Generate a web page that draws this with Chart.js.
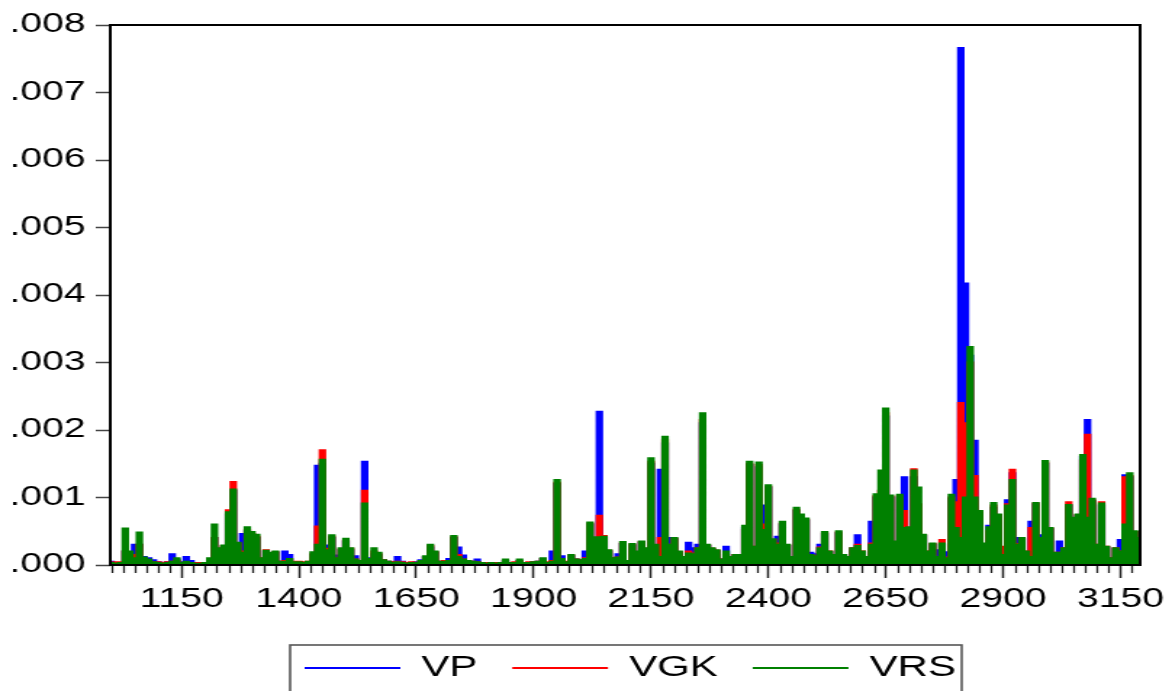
<!DOCTYPE html>
<html><head><meta charset="utf-8">
<script src="https://cdn.jsdelivr.net/npm/chart.js@4/dist/chart.umd.min.js"></script>
<style>
html,body{margin:0;padding:0;background:#fff;overflow:hidden;width:1172px;height:691px;}
#wrap{position:absolute;left:0;top:0;width:808px;height:691px;transform:scaleX(1.4505);transform-origin:0 0;}
</style></head><body>
<div id="wrap"><canvas id="c"></canvas></div>
<script>
const obs = [1000,1010,1020,1030,1040,1050,1060,1070,1080,1090,1100,1110,1120,1130,1140,1150,1160,1170,1180,1190,1200,1210,1220,1230,1240,1250,1260,1270,1280,1290,1300,1310,1320,1330,1340,1350,1360,1370,1380,1390,1400,1410,1420,1430,1440,1450,1460,1470,1480,1490,1500,1510,1520,1530,1540,1550,1560,1570,1580,1590,1600,1610,1620,1630,1640,1650,1660,1670,1680,1690,1700,1710,1720,1730,1740,1750,1760,1770,1780,1790,1800,1810,1820,1830,1840,1850,1860,1870,1880,1890,1900,1910,1920,1930,1940,1950,1960,1970,1980,1990,2000,2010,2020,2030,2040,2050,2060,2070,2080,2090,2100,2110,2120,2130,2140,2150,2160,2170,2180,2190,2200,2210,2220,2230,2240,2250,2260,2270,2280,2290,2300,2310,2320,2330,2340,2350,2360,2370,2380,2390,2400,2410,2420,2430,2440,2450,2460,2470,2480,2490,2500,2510,2520,2530,2540,2550,2560,2570,2580,2590,2600,2610,2620,2630,2640,2650,2660,2670,2680,2690,2700,2710,2720,2730,2740,2750,2760,2770,2780,2790,2800,2810,2820,2830,2840,2850,2860,2870,2880,2890,2900,2910,2920,2930,2940,2950,2960,2970,2980,2990,3000,3010,3020,3030,3040,3050,3060,3070,3080,3090,3100,3110,3120,3130,3140,3150,3160,3170,3180,3190];

const vp = [
.00005,.00003,.00003,.0002,.00015,.0003,.0003,.00012,.0001,.00007,
.00004,.00003,.00004,.00016,.00008,.00004,.00012,.00006,.00003,.00002,
.00003,.00008,.0004,.00022,.00026,.00075,.0011,.0003,.00046,.0005,
.00045,.0004,.00009,.0002,.00015,.00018,.00005,.0002,.00015,.00004,
.00004,.00003,.00004,.00015,.00147,.0015,.00029,.0004,.00014,.00022,
.00035,.00022,.00013,.00006,.00153,.0001,.00016,.00015,.00007,.00005,
.00004,.00012,.00005,.00003,.00003,.00004,.00007,.00012,.00026,.00018,
.00005,.00005,.00009,.0004,.00026,.00014,.00006,.00005,.00008,.00003,
.00003,.00002,.00003,.00003,.00006,.00003,.00003,.00006,.00003,.00003,
.00004,.00005,.00009,.00003,.0002,.0012,.00013,.00004,.00013,.00008,
.00007,.0002,.0006,.0004,.00227,.0004,.0002,.0001,.00016,.00031,
.00006,.00029,.00018,.00033,.00023,.0015,.00028,.00141,.0018,.0004,
.00038,.00018,.00011,.00033,.00025,.0003,.0021,.00028,.00023,.0002,
.00008,.00027,.00011,.00014,.00014,.00055,.00148,.00026,.00145,.00088,
.00115,.00036,.00042,.0006,.00028,.00011,.0008,.00072,.00066,.00018,
.00016,.0003,.00046,.00019,.00014,.00047,.00014,.00011,.00024,.00044,
.00019,.00011,.00064,.001,.001,.0022,.001,.00033,.001,.0013,
.0005,.0013,.0008,.00043,.00019,.0003,.00022,.0003,.00019,.00098,
.00126,.00766,.00417,.0031,.00184,.00075,.0003,.00058,.00085,.00073,
.00025,.00096,.00136,.0004,.00038,.00019,.00064,.0009,.00044,.0015,
.00053,.00017,.00035,.00024,.00088,.00068,.00073,.0016,.00215,.00095,
.00029,.00088,.00026,.0001,.00024,.00037,.00133,.0013,.00048,.00038];

const vgk = [
.00003,.00004,.00004,.0002,.00015,.00015,.0003,.0001,.00006,.00004,
.00004,.00003,.00004,.00005,.00006,.00003,.00004,.00003,.00003,.00003,
.00003,.00008,.0004,.00024,.00028,.00081,.00123,.00032,.0002,.00052,
.00046,.00042,.0001,.00022,.00016,.00019,.00005,.00006,.00008,.00005,
.00005,.00004,.00005,.00016,.00057,.0017,.00024,.00042,.0001,.00023,
.00036,.00024,.00008,.00006,.0011,.00008,.0002,.00016,.00007,.00005,
.00004,.00005,.00004,.00003,.00004,.00003,.00005,.00011,.00028,.00019,
.00005,.00006,.00005,.00041,.00015,.00008,.00006,.00005,.00004,.00003,
.00003,.00003,.00003,.00002,.00006,.00003,.00004,.00006,.00003,.00004,
.00004,.00005,.00009,.00004,.00006,.00122,.00009,.00005,.00014,.00008,
.00007,.0001,.00061,.00039,.00073,.00043,.00021,.0001,.00011,.00032,
.00006,.0003,.00019,.00034,.00024,.00153,.00029,.0004,.00185,.0003,
.00039,.00019,.00012,.0002,.00017,.00025,.00215,.00029,.00024,.00021,
.00008,.00015,.00012,.00015,.00015,.00052,.0015,.00027,.00148,.0006,
.00116,.00037,.00032,.00061,.00029,.00012,.00082,.00073,.00067,.00015,
.00013,.00026,.00047,.0002,.00015,.00048,.00015,.00012,.00025,.0003,
.0002,.00012,.00032,.00102,.0011,.00225,.00101,.00034,.00102,.0008,
.00052,.00142,.0009,.00044,.0002,.00031,.00012,.00037,.00011,.001,
.00093,.0024,.0021,.003,.00132,.00078,.00031,.0005,.00088,.00074,
.00027,.0009,.00141,.00031,.00039,.0002,.00055,.00091,.0004,.00152,
.00054,.00018,.00018,.00025,.00093,.00069,.00074,.00155,.00193,.00096,
.0003,.00093,.00027,.0001,.00025,.0002,.0013,.00132,.00049,.00039];

const vrs = [
.00003,.00002,.00003,.00054,.0002,.0001,.00048,.00011,.00008,.00004,
.00003,.00002,.00003,.00005,.0001,.00003,.00005,.00003,.00002,.00002,
.00003,.0001,.0006,.00025,.00029,.00078,.00112,.00033,.00018,.00056,
.00049,.00045,.0001,.00021,.00018,.0002,.00005,.00005,.00009,.00004,
.00004,.00003,.00005,.00019,.0003,.00156,.00022,.00044,.0001,.00025,
.00039,.00025,.00008,.00006,.00091,.00009,.00025,.00018,.00007,.00005,
.00003,.00004,.00003,.00002,.00003,.00003,.00006,.00013,.0003,.0002,
.00005,.00005,.00006,.00043,.00012,.00008,.00006,.00005,.00004,.00003,
.00002,.00003,.00002,.00003,.00008,.00003,.00003,.00008,.00003,.00003,
.00004,.00005,.0001,.00003,.00005,.00126,.00009,.00004,.00015,.00008,
.00007,.00009,.00063,.00041,.00041,.00042,.00022,.0001,.00011,.00034,
.00006,.00031,.0002,.00035,.00025,.00158,.0003,.00012,.0019,.0003,
.0004,.0002,.00012,.00017,.00016,.00025,.00225,.0003,.00025,.00022,
.00008,.0002,.00012,.00015,.00015,.00058,.00153,.00027,.00152,.00052,
.00118,.00038,.0003,.00064,.0003,.00012,.00085,.00075,.00069,.00015,
.00013,.00025,.00049,.0002,.00015,.0005,.00015,.00012,.00025,.00028,
.0002,.00012,.0003,.00105,.0014,.00232,.00103,.00035,.00104,.00055,
.00056,.0014,.00115,.00045,.0002,.00032,.00012,.00032,.0001,.00104,
.00055,.0004,.001,.00323,.001,.0008,.00032,.00056,.00092,.00075,
.00015,.00088,.00126,.0003,.0004,.0002,.00012,.00092,.0004,.00154,
.00055,.00018,.00018,.00025,.00089,.0007,.00075,.00163,.0007,.00098,
.0003,.00091,.00027,.0001,.00025,.0002,.0006,.00136,.0005,.0004];

const xTicks = [1150,1400,1650,1900,2150,2400,2650,2900,3150];
const yTicks = [0,.001,.002,.003,.004,.005,.006,.007,.008];
const yTickLabels = ['.000','.001','.002','.003','.004','.005','.006','.007','.008'];
const seriesNames = ['VP','VGK','VRS'];
const seriesColors = ['#0000ff','#ff0000','#008000'];
const seriesValues = [vp, vgk, vrs];

Chart.defaults.font.family = "'Liberation Sans', Arial, Helvetica, sans-serif";
Chart.defaults.color = '#000';

const PLOT_BOTTOM = 565;
const LEG_X = 210, LEG_Y = 668;

const decor = {
  id: 'decor',
  afterLayout(chart) {
    const lg = chart.legend;
    const pad = lg.options.labels.padding;
    lg.left = LEG_X - pad;
    lg.right = lg.left + 3000;
    lg.top = LEG_Y - pad - 14.5;
  },
  afterDraw(chart) {
    const ctx = chart.ctx, a = chart.chartArea, xs = chart.scales.x;
    ctx.save();
    ctx.strokeStyle = '#222';
    ctx.lineWidth = 1.3;
    for (let v = 1000; v <= 3175; v += 25) {
      if (xTicks.indexOf(v) >= 0) continue;
      const p = Math.round(xs.getPixelForValue(v)) + 0.5;
      ctx.beginPath(); ctx.moveTo(p, a.bottom); ctx.lineTo(p, a.bottom + 8); ctx.stroke();
    }
    ctx.strokeStyle = '#000';
    ctx.lineWidth = 2;
    ctx.strokeRect(a.left, a.top, a.right - a.left, a.bottom - a.top);
    ctx.strokeStyle = '#555';
    ctx.lineWidth = 1.6;
    ctx.strokeRect(200, 645, 463, 70);
    ctx.restore();
  }
};

const datasets = seriesNames.map((name, k) => ({
  label: name,
  data: obs.map((x, i) => ({x: x, y: seriesValues[k][i]})),
  borderColor: seriesColors[k],
  backgroundColor: seriesColors[k],
  borderWidth: 2,
  pointRadius: 0,
  stepped: 'middle',
  fill: 'origin',
  order: 3 - k
}));

new Chart(document.getElementById('c'), {
  type: 'line',
  data: { datasets: datasets },
  plugins: [decor],
  options: {
    responsive: true,
    maintainAspectRatio: false,
    animation: false,
    events: [],
    layout: { padding: { left: 0, right: 22, top: 25, bottom: 0 } },
    plugins: {
      filler: { drawTime: 'beforeDatasetDraw' },
      tooltip: { enabled: false },
      legend: {
        position: 'bottom',
        align: 'start',
        labels: {
          usePointStyle: true,
          pointStyle: 'line',
          pointStyleWidth: 66,
          boxHeight: 29,
          padding: 24,
          color: '#000',
          font: { size: 29 },
          sort: (a, b) => a.datasetIndex - b.datasetIndex
        }
      }
    },
    scales: {
      x: {
        type: 'linear',
        min: 998,
        max: 3192,
        afterBuildTicks: (s) => { s.ticks = xTicks.map(v => ({value: v})); },
        afterFit: (s) => { s.height = s.chart.height - PLOT_BOTTOM - s.chart.legend.height; },
        ticks: { autoSkip: false, maxRotation: 0, padding: 5, font: { size: 27 }, color: '#000',
                 callback: (v) => String(v) },
        grid: { drawOnChartArea: false, drawTicks: true, tickLength: 13, tickColor: '#222', tickWidth: 1.5 },
        border: { display: false }
      },
      y: {
        min: 0,
        max: 0.008,
        afterBuildTicks: (s) => { s.ticks = yTicks.map(v => ({value: v})); },
        afterFit: (s) => { s.width = 76; },
        ticks: { autoSkip: false, padding: 7, font: { size: 27 }, color: '#000',
                 callback: (v, i) => yTickLabels[i] },
        grid: { drawOnChartArea: false, drawTicks: true, tickLength: 10, tickColor: '#444', tickWidth: 1.5 },
        border: { display: false }
      }
    }
  }
});
</script>
</body></html>
